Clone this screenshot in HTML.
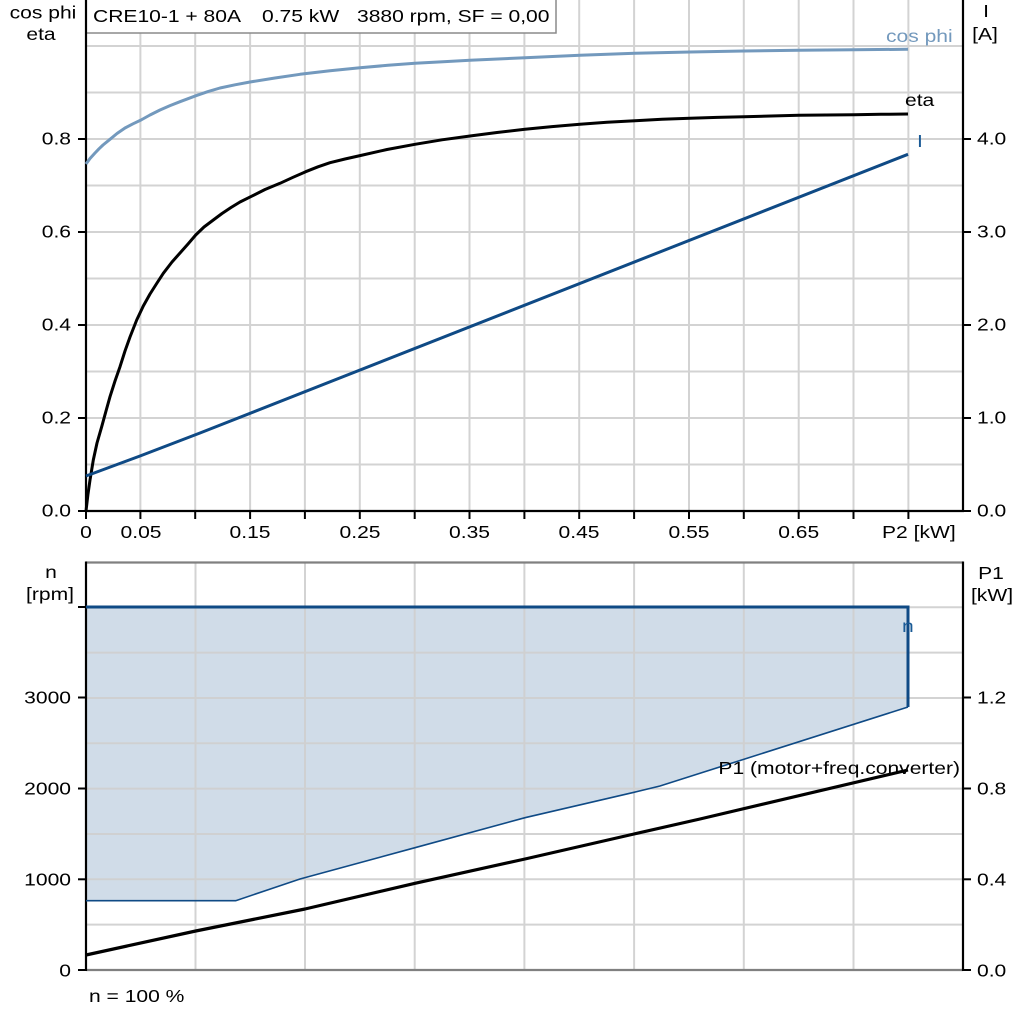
<!DOCTYPE html>
<html><head><meta charset="utf-8"><style>
html,body{margin:0;padding:0;background:#fff;}
svg{display:block;font-family:"Liberation Sans",Arial,sans-serif;}
</style></head><body>
<svg width="1024" height="1024" viewBox="0 0 1024 1024" xmlns="http://www.w3.org/2000/svg">
<rect width="1024" height="1024" fill="#fff"/>
<!-- TOP CHART GRID -->
<g stroke="#d3d3d3" stroke-width="2">
<line x1="140.4" y1="0" x2="140.4" y2="511"/><line x1="195.2" y1="0" x2="195.2" y2="511"/><line x1="250.1" y1="0" x2="250.1" y2="511"/><line x1="304.9" y1="0" x2="304.9" y2="511"/><line x1="359.8" y1="0" x2="359.8" y2="511"/><line x1="414.7" y1="0" x2="414.7" y2="511"/><line x1="469.5" y1="0" x2="469.5" y2="511"/><line x1="524.4" y1="0" x2="524.4" y2="511"/><line x1="579.2" y1="0" x2="579.2" y2="511"/><line x1="634.1" y1="0" x2="634.1" y2="511"/><line x1="689" y1="0" x2="689" y2="511"/><line x1="743.8" y1="0" x2="743.8" y2="511"/><line x1="798.7" y1="0" x2="798.7" y2="511"/><line x1="853.5" y1="0" x2="853.5" y2="511"/><line x1="908.4" y1="0" x2="908.4" y2="511"/>
<line x1="86" y1="464.5" x2="963" y2="464.5"/><line x1="86" y1="418" x2="963" y2="418"/><line x1="86" y1="371.5" x2="963" y2="371.5"/><line x1="86" y1="325" x2="963" y2="325"/><line x1="86" y1="278.5" x2="963" y2="278.5"/><line x1="86" y1="232" x2="963" y2="232"/><line x1="86" y1="185.5" x2="963" y2="185.5"/><line x1="86" y1="139" x2="963" y2="139"/><line x1="86" y1="92.5" x2="963" y2="92.5"/><line x1="86" y1="46" x2="963" y2="46"/>
</g>
<!-- title box -->
<rect x="86" y="-1" width="470" height="34" fill="#fff" stroke="#8a8a8a" stroke-width="1.5"/>
<g font-size="18" fill="#000">
<text transform="translate(93 22) scale(1.17 1)">CRE10-1 + 80A</text>
<text transform="translate(262 22) scale(1.17 1)">0.75 kW</text>
<text transform="translate(357 22) scale(1.17 1)">3880 rpm, SF = 0,00</text>
</g>
<!-- top axes -->
<g stroke="#000" stroke-width="2.2">
<line x1="86" y1="0" x2="86" y2="512"/>
<line x1="963" y1="0" x2="963" y2="512"/>
<line x1="85" y1="511" x2="964" y2="511"/>
</g>
<g stroke="#000" stroke-width="2">
<line x1="78" y1="511" x2="86" y2="511"/><line x1="78" y1="418" x2="86" y2="418"/><line x1="78" y1="325" x2="86" y2="325"/><line x1="78" y1="232" x2="86" y2="232"/><line x1="78" y1="139" x2="86" y2="139"/>
<line x1="963" y1="511" x2="971" y2="511"/><line x1="963" y1="418" x2="971" y2="418"/><line x1="963" y1="325" x2="971" y2="325"/><line x1="963" y1="232" x2="971" y2="232"/><line x1="963" y1="139" x2="971" y2="139"/>
<line x1="86" y1="511" x2="86" y2="519"/><line x1="140.4" y1="511" x2="140.4" y2="519"/><line x1="195.2" y1="511" x2="195.2" y2="519"/><line x1="250.1" y1="511" x2="250.1" y2="519"/><line x1="304.9" y1="511" x2="304.9" y2="519"/><line x1="359.8" y1="511" x2="359.8" y2="519"/><line x1="414.7" y1="511" x2="414.7" y2="519"/><line x1="469.5" y1="511" x2="469.5" y2="519"/><line x1="524.4" y1="511" x2="524.4" y2="519"/><line x1="579.2" y1="511" x2="579.2" y2="519"/><line x1="634.1" y1="511" x2="634.1" y2="519"/><line x1="689" y1="511" x2="689" y2="519"/><line x1="743.8" y1="511" x2="743.8" y2="519"/><line x1="798.7" y1="511" x2="798.7" y2="519"/><line x1="853.5" y1="511" x2="853.5" y2="519"/><line x1="908.4" y1="511" x2="908.4" y2="519"/>
</g>
<!-- top labels -->
<g font-size="18" fill="#000">
<text text-anchor="middle" transform="translate(43 18.5) scale(1.17 1)">cos phi</text>
<text text-anchor="middle" transform="translate(41 40) scale(1.17 1)">eta</text>
<text text-anchor="middle" transform="translate(986 17) scale(1.17 1)">I</text>
<text text-anchor="middle" transform="translate(985 40) scale(1.17 1)">[A]</text>
<g text-anchor="end">
<text transform="translate(71 144.5) scale(1.17 1)">0.8</text>
<text transform="translate(71 237.5) scale(1.17 1)">0.6</text>
<text transform="translate(71 330.5) scale(1.17 1)">0.4</text>
<text transform="translate(71 423.5) scale(1.17 1)">0.2</text>
<text transform="translate(71 516.5) scale(1.17 1)">0.0</text>
</g>
<g text-anchor="start">
<text transform="translate(977 144.5) scale(1.17 1)">4.0</text>
<text transform="translate(977 237.5) scale(1.17 1)">3.0</text>
<text transform="translate(977 330.5) scale(1.17 1)">2.0</text>
<text transform="translate(977 423.5) scale(1.17 1)">1.0</text>
<text transform="translate(977 516.5) scale(1.17 1)">0.0</text>
</g>
<g text-anchor="middle">
<text transform="translate(86 538) scale(1.17 1)">0</text>
<text transform="translate(141 538) scale(1.17 1)">0.05</text>
<text transform="translate(250 538) scale(1.17 1)">0.15</text>
<text transform="translate(360 538) scale(1.17 1)">0.25</text>
<text transform="translate(469.5 538) scale(1.17 1)">0.35</text>
<text transform="translate(579 538) scale(1.17 1)">0.45</text>
<text transform="translate(689 538) scale(1.17 1)">0.55</text>
<text transform="translate(798.7 538) scale(1.17 1)">0.65</text>
</g>
<text transform="translate(882 538) scale(1.17 1)">P2 [kW]</text>
</g>
<!-- curves top -->
<g fill="none" stroke-width="3" stroke-linejoin="round" stroke-linecap="butt">
<polyline stroke="#7399bd" points="86,164 90,158.5 95,153 99,148.8 103,145 110,139.3 117,133.5 125,128 133,123.8 141,120 150,115 160,110 170,105.6 180,101.7 196,95.7 208,91.6 220,88 235,84.8 250,82 275,78 300,74.3 330,70.8 360,67.7 388,65.3 415,63.3 443,61.7 470,60.3 525,57.7 580,55.3 635,53.3 690,52 744,51 799,50.3 854,49.7 908,49.3"/>
<polyline stroke="#000" points="86,511 88,494 90,480 93.3,460 97,443 101.7,426.7 106,411 110,396.7 115,381 120,366.7 125,351 130,337 136.7,320 143.3,306 150,294 157,283 163.3,273.3 172,262 180,253 188,244 195.7,235 204,227 213.3,220 222,213.5 231,207.5 240,202 250.7,196.7 265,189.5 280,183.3 293,177.3 305.7,171.7 318,166.8 330,162.7 345,159 360,155.6 387,149.5 415,144.3 442,139.8 470,136 497,132.5 525,129.3 552,126.6 580,124.3 607,122.3 635,120.7 662,119.3 690,118.3 717,117.4 744,116.7 771,116 799,115.3 826,115 854,114.7 881,114.3 908,114"/>
<polyline stroke="#0f4a85" points="86,476 140,456 200,433 908,154.3"/>
</g>
<g font-size="18">
<text transform="translate(886 42) scale(1.17 1)" fill="#7399bd">cos phi</text>
<text transform="translate(905 106) scale(1.17 1)" fill="#000">eta</text>
<text transform="translate(917 147) scale(1.17 1)" fill="#1a5a96">I</text>
</g>

<!-- BOTTOM CHART -->
<polygon fill="#d0dce8" points="86,607 908,607 908,707 660,786 634,792.3 525,817.7 415,847.7 300,879 235.7,900.7 86,900.7"/>
<g stroke="#cfcfcf" stroke-width="2" opacity="0.9">
<line x1="195.5" y1="562" x2="195.5" y2="970"/><line x1="305" y1="562" x2="305" y2="970"/><line x1="414.7" y1="562" x2="414.7" y2="970"/><line x1="524.4" y1="562" x2="524.4" y2="970"/><line x1="634.1" y1="562" x2="634.1" y2="970"/><line x1="743.8" y1="562" x2="743.8" y2="970"/><line x1="853.5" y1="562" x2="853.5" y2="970"/>
<line x1="86" y1="924.6" x2="963" y2="924.6"/><line x1="86" y1="879.3" x2="963" y2="879.3"/><line x1="86" y1="834" x2="963" y2="834"/><line x1="86" y1="788.6" x2="963" y2="788.6"/><line x1="86" y1="743.3" x2="963" y2="743.3"/><line x1="86" y1="698" x2="963" y2="698"/><line x1="86" y1="652.6" x2="963" y2="652.6"/><line x1="86" y1="607.3" x2="963" y2="607.3"/>
</g>
<g stroke="#808080" stroke-width="2.2">
<line x1="86" y1="562.5" x2="963" y2="562.5"/>
<line x1="86" y1="970" x2="963" y2="970"/>
</g>
<g stroke="#000" stroke-width="2.2">
<line x1="86" y1="561.5" x2="86" y2="971"/>
<line x1="963" y1="561.5" x2="963" y2="971"/>
</g>
<g stroke="#000" stroke-width="2">
<line x1="78" y1="607" x2="86" y2="607"/><line x1="78" y1="697.5" x2="86" y2="697.5"/><line x1="78" y1="788.5" x2="86" y2="788.5"/><line x1="78" y1="879.3" x2="86" y2="879.3"/><line x1="78" y1="970" x2="86" y2="970"/>
<line x1="963" y1="697.5" x2="971" y2="697.5"/><line x1="963" y1="788.5" x2="971" y2="788.5"/><line x1="963" y1="879.3" x2="971" y2="879.3"/><line x1="963" y1="970" x2="971" y2="970"/>
</g>
<!-- bottom series -->
<polyline fill="none" stroke="#0f4a85" stroke-width="1.6" points="86,900.7 235.7,900.7 300,879 415,847.7 525,817.7 634,792.3 660,786 908,707"/>
<polyline fill="none" stroke="#0f4a85" stroke-width="3" stroke-linejoin="miter" points="86,607 908,607 908,707"/>
<polyline fill="none" stroke="#000" stroke-width="3.2" stroke-linejoin="round" points="86,955 195.7,931 305,909 415,883.3 525,859 634,834 700,819 908,770"/>
<g font-size="18" fill="#000">
<text text-anchor="middle" transform="translate(51 578) scale(1.17 1)">n</text>
<text text-anchor="middle" transform="translate(50 600) scale(1.17 1)">[rpm]</text>
<text text-anchor="middle" transform="translate(991 579) scale(1.17 1)">P1</text>
<text text-anchor="middle" transform="translate(992 601) scale(1.17 1)">[kW]</text>
<g text-anchor="end">
<text transform="translate(71 703.5) scale(1.17 1)">3000</text>
<text transform="translate(71 794.5) scale(1.17 1)">2000</text>
<text transform="translate(71 885.5) scale(1.17 1)">1000</text>
<text transform="translate(71 976.5) scale(1.17 1)">0</text>
</g>
<g text-anchor="start">
<text transform="translate(977 703.5) scale(1.17 1)">1.2</text>
<text transform="translate(977 794.5) scale(1.17 1)">0.8</text>
<text transform="translate(977 885.5) scale(1.17 1)">0.4</text>
<text transform="translate(977 976.5) scale(1.17 1)">0.0</text>
</g>
<text transform="translate(89 1002) scale(1.17 1)">n = 100 %</text>
<text text-anchor="end" transform="translate(960 774) scale(1.17 1)">P1 (motor+freq.converter)</text>
<text transform="translate(902 632) scale(1.17 1)" fill="#1a5a96">n</text>
</g>
</svg>
</body></html>
